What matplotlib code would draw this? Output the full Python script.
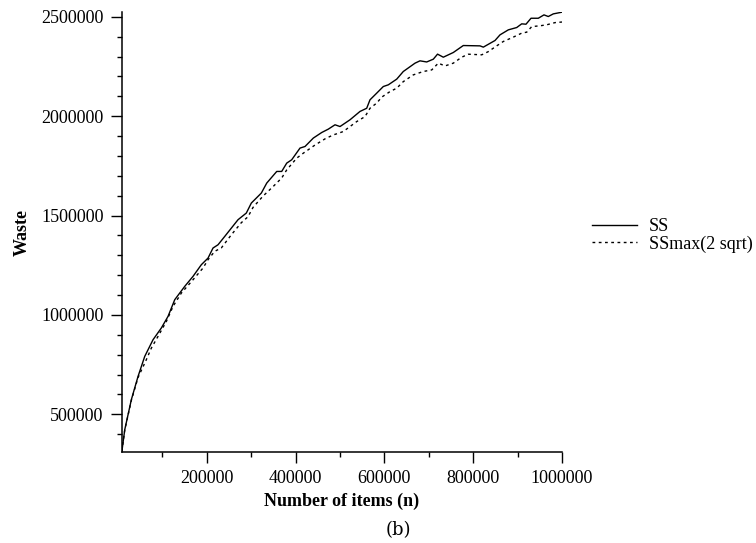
import matplotlib
matplotlib.use("Agg")
import matplotlib.pyplot as plt
from matplotlib.ticker import MultipleLocator

plt.rcParams['font.family'] = ['Liberation Serif', 'DejaVu Serif']

# SS curve
ss_n = [9000, 15300, 30200, 45300, 60300, 79000, 97700, 112800, 127900, 150400,
        169100, 187800, 202900, 214100, 225400, 240500, 270400, 289100, 300400,
        322900, 335100, 357600, 368800, 380100, 391300, 410000, 421300, 440000,
        458900, 473800, 488800, 500100, 522600, 545100, 560200, 567600, 582700,
        597600, 608900, 627800, 642600, 669000, 680200, 695300, 710200, 719700,
        732700, 755200, 777700, 815300, 822800, 849100, 860400, 879100, 898000,
        909200, 918900, 930200, 946600, 959400, 969100, 980400, 1000000]
ss_w = [315000, 422000, 573500, 690700, 791000, 875000, 934000, 992500, 1076500,
        1143500, 1194000, 1252600, 1286000, 1336600, 1353000, 1395000, 1479000,
        1512600, 1563000, 1613200, 1663500, 1722000, 1722000, 1764000, 1780700,
        1839600, 1847600, 1890000, 1918000, 1935000, 1956800, 1948000, 1982000,
        2024000, 2040000, 2082500, 2116000, 2149400, 2158000, 2186600, 2225000,
        2267000, 2278700, 2273000, 2287000, 2312400, 2297000, 2320600, 2355700,
        2354000, 2347600, 2381000, 2409500, 2434600, 2446300, 2464800, 2463000,
        2493000, 2493000, 2510000, 2501700, 2515000, 2523600]

# SSmax(2 sqrt) curve
sm_n = [9000, 15300, 30200, 45300, 64000, 75200, 90300, 109000, 124100, 142800,
        169100, 191600, 202900, 218000, 232800, 255300, 277800, 292900, 304200,
        326700, 349900, 368800, 380100, 402600, 417500, 443800, 466300, 485000,
        496300, 507500, 522600, 537700, 556400, 567600, 582700, 594000, 612700,
        627800, 642600, 665100, 687700, 706600, 721400, 736500, 755200, 774100,
        789000, 819200, 834000, 852900, 867800, 890300, 909200, 920500, 931800,
        950500, 965500, 984200, 1000000]
sm_w = [315000, 420000, 570000, 685000, 775000, 833000, 892000, 967000, 1043000,
        1110000, 1177000, 1236000, 1278000, 1320000, 1337000, 1403000, 1464000,
        1494000, 1541000, 1598000, 1647000, 1689000, 1730000, 1789000, 1814000,
        1855000, 1886000, 1906000, 1914000, 1923000, 1948000, 1973000, 1998000,
        2040000, 2066000, 2096000, 2124000, 2141000, 2174000, 2208000, 2225000,
        2233000, 2267000, 2253000, 2267000, 2297000, 2312000, 2309000, 2325000,
        2354000, 2376000, 2398000, 2418000, 2423000, 2451000, 2455000, 2460000,
        2471000, 2474000]

x_ticks = [200000, 400000, 600000, 800000, 1000000]
y_ticks = [500000, 1000000, 1500000, 2000000, 2500000]

fig = plt.figure(figsize=(7.56, 5.43), dpi=100)
ax = fig.add_axes([0.161, 0.1676, 0.5824, 0.8094])

ax.plot(ss_n, ss_w, color='black', lw=1.0, label='SS')
ax.plot(sm_n, sm_w, color='black', lw=1.0, linestyle=(0, (2, 2.5)),
        label='SSmax(2 sqrt)')

ax.set_xlim(8500, 1000000)
ax.set_ylim(310000, 2522000)
ax.set_xticks(x_ticks)
ax.set_yticks(y_ticks)
ax.set_xticklabels([str(v) for v in x_ticks])
ax.set_yticklabels([str(v) for v in y_ticks])
ax.xaxis.set_minor_locator(MultipleLocator(100000))
ax.yaxis.set_minor_locator(MultipleLocator(100000))

for s in ['top', 'right']:
    ax.spines[s].set_visible(False)
for s in ['left', 'bottom']:
    ax.spines[s].set_linewidth(1.1)

ax.tick_params(which='major', direction='out', length=8, width=1.0,
               labelsize=13, pad=5)
ax.tick_params(which='minor', direction='out', length=3.3, width=1.0)

ax.set_xlabel('Number of items (n)', fontsize=13, fontweight='bold', labelpad=4)
ax.set_ylabel('Waste', fontsize=13, fontweight='bold', labelpad=7.5)

leg = ax.legend(loc='center left', bbox_to_anchor=(1.068, 0.4926), frameon=False,
                fontsize=13, handlelength=2.5, handletextpad=0.67,
                labelspacing=0.0, borderpad=0, borderaxespad=0)

fig.text(0.527, 0.024, '(b)', fontsize=13, family=['DejaVu Serif'],
         ha='center', va='center')

fig.savefig('out.png', dpi=100)
